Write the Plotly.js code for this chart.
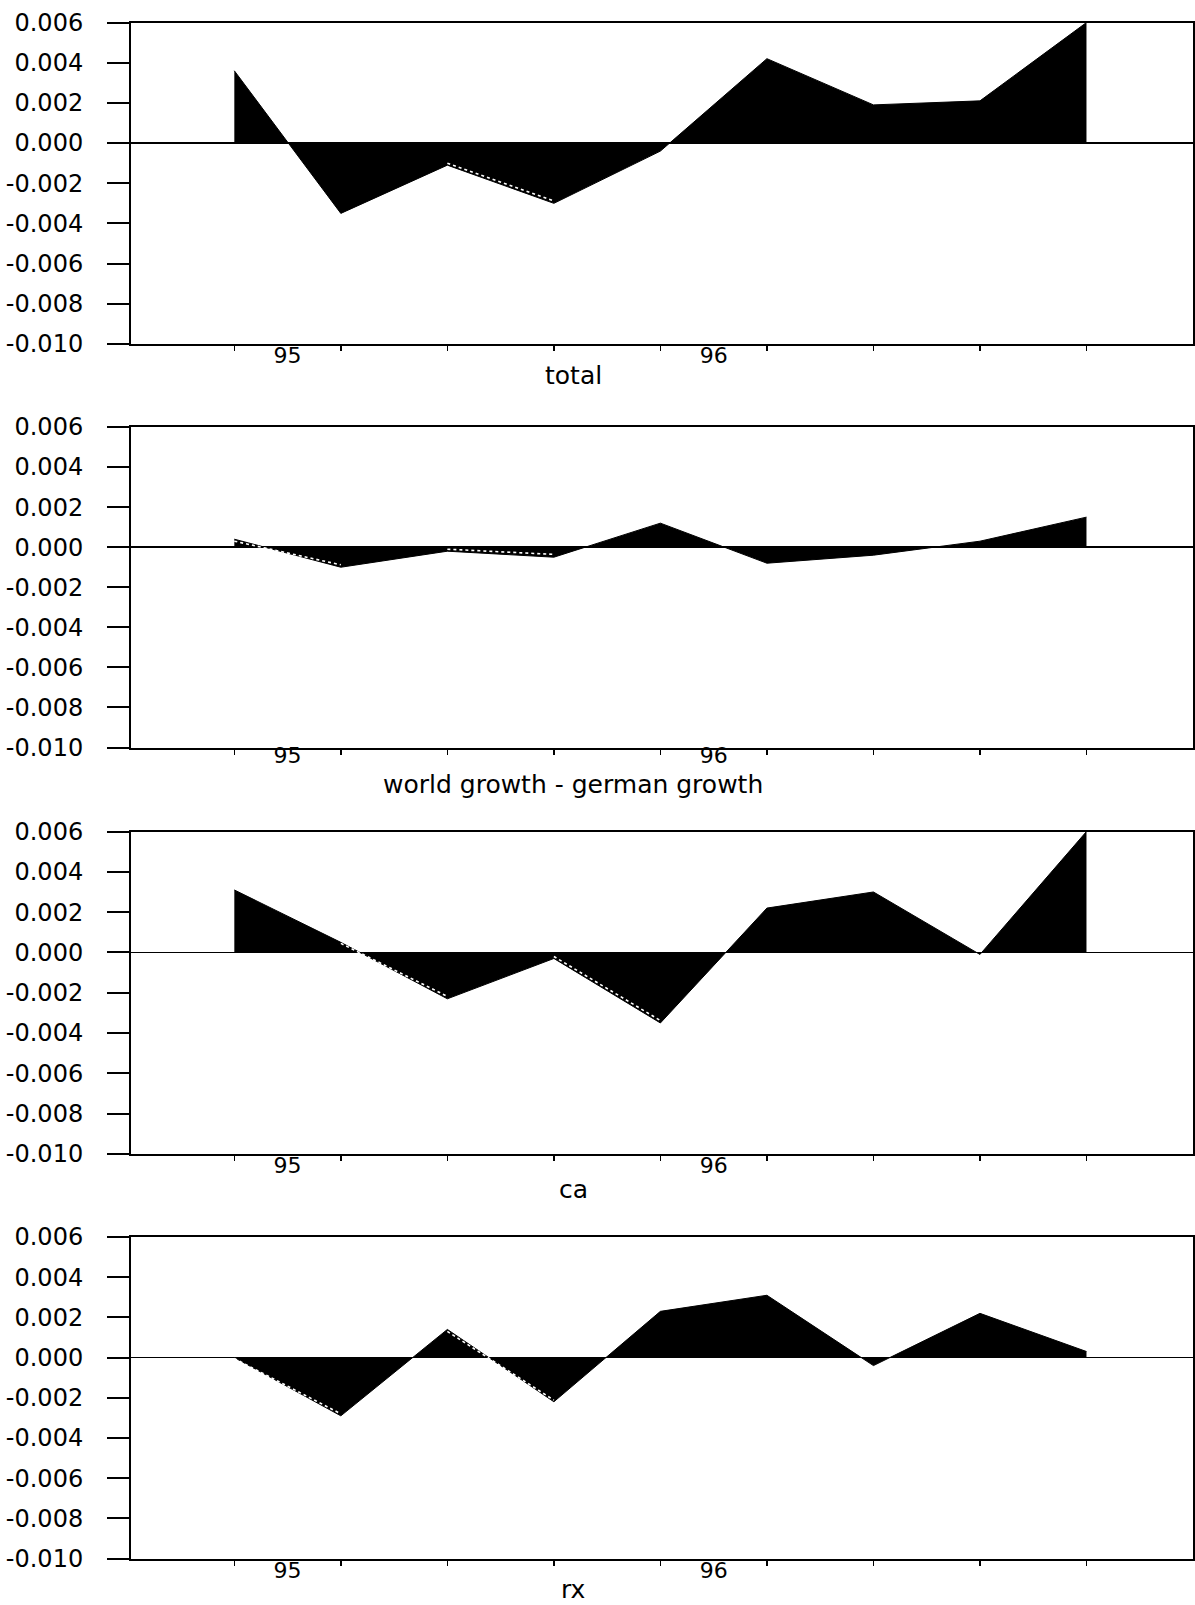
<!DOCTYPE html>
<html><head><meta charset="utf-8">
<script src="https://cdn.plot.ly/plotly-3.0.1.min.js"></script>
<style>html,body{margin:0;padding:0;background:#fff}</style>
</head><body><div id="chart" style="width:1195px;height:1605px"></div>
<script>
// quarterly observations (0 = first quarter shown)
const quarters = [0, 1, 2, 3, 4, 5, 6, 7, 8];

// filled series per panel
const total       = [0.0036, -0.0035, -0.0011, -0.0030, -0.0004, 0.0042, 0.0019, 0.0021, 0.0060];
const worldGerman = [0.0004, -0.0010, -0.0002, -0.0005, 0.0012, -0.0008, -0.0004, 0.0003, 0.0015];
const ca          = [0.0031, 0.0005, -0.0023, -0.0003, -0.0035, 0.0022, 0.0030, -0.0001, 0.0060];
const rx          = [0.0000, -0.0029, 0.0014, -0.0022, 0.0023, 0.0031, -0.0004, 0.0022, 0.0003];

// second (dotted white) series where it departs from the filled one
const totalDotX = [2, 3];
const totalDotY = [-0.00100, -0.00288];
const worldGermanDotX = [0, 1, null, 2, 3];
const worldGermanDotY = [0.00030, -0.00088, null, -0.00010, -0.00036];
const caDotX = [1, 2, null, 3, 4];
const caDotY = [0.00045, -0.00218, null, -0.00020, -0.00338];
const rxDotX = [0, 1, null, 2, 3];
const rxDotY = [-0.00005, -0.00280, null, 0.00130, -0.00212];

const titles = ['total', 'world growth - german growth', 'ca', 'rx'];

const yTickVals = [0.006, 0.004, 0.002, 0.000, -0.002, -0.004, -0.006, -0.008, -0.010];
const yTickText = ['0.006', '0.004', '0.002', '0.000', '-0.002', '-0.004', '-0.006', '-0.008', '-0.010'];
const yearTickVals = [0.5, 4.5];
const yearTickText = ['95', '96'];

const series = [total, worldGerman, ca, rx];
const dots = [[totalDotX, totalDotY], [worldGermanDotX, worldGermanDotY], [caDotX, caDotY], [rxDotX, rxDotY]];

const W = 1195, H = 1605;
const panelsPx = [[22.5, 344], [427, 747.5], [831.5, 1154], [1237, 1558.5]];
const titleYPx = [376, 784, 1189, 1589];
const labelStandoff = [-9, -13, -9, -9];
const xDomain = [131 / W, 1193 / W];

const font = {family: 'DejaVu Sans, sans-serif', color: '#000', size: 24};
const data = [];
const layout = {
  width: W, height: H,
  margin: {l: 0, r: 0, t: 0, b: 0},
  paper_bgcolor: '#fff', plot_bgcolor: '#fff',
  showlegend: false,
  font: font,
  annotations: []
};

series.forEach((vals, i) => {
  const n = i === 0 ? '' : String(i + 1);
  data.push({
    x: quarters, y: vals, xaxis: 'x' + n, yaxis: 'y' + n,
    type: 'scatter', mode: 'lines', fill: 'tozeroy',
    fillcolor: '#000', line: {color: '#000', width: 1}, hoverinfo: 'skip'
  });
  data.push({
    x: dots[i][0], y: dots[i][1], xaxis: 'x' + n, yaxis: 'y' + n,
    type: 'scatter', mode: 'lines', connectgaps: false,
    line: {color: '#fff', width: 1.6, dash: 'dot'}, hoverinfo: 'skip'
  });
  const [top, bot] = panelsPx[i];
  layout['xaxis' + n] = {
    domain: xDomain, anchor: 'y' + n, range: [-0.97, 9.0],
    showline: true, linewidth: 2, linecolor: '#000', mirror: true,
    showgrid: false, zeroline: false,
    tickmode: 'array', tickvals: yearTickVals, ticktext: yearTickText,
    ticks: '', ticklabelstandoff: labelStandoff[i],
    tickfont: {family: 'DejaVu Sans, sans-serif', size: 22, color: '#000'},
    minor: {tickmode: 'array', tickvals: quarters, ticks: 'outside', ticklen: 5, tickwidth: 1.5, tickcolor: '#000', showgrid: false},
    automargin: false, fixedrange: true
  };
  layout['yaxis' + n] = {
    domain: [1 - bot / H, 1 - top / H], anchor: 'x' + n, range: [-0.010, 0.006],
    showline: true, linewidth: 2, linecolor: '#000', mirror: true,
    showgrid: false, zeroline: true, zerolinecolor: '#000', zerolinewidth: 1.5,
    tickmode: 'array', tickvals: yTickVals, ticktext: yTickText,
    ticks: 'outside', ticklen: 22, tickwidth: 2, tickcolor: '#000',
    ticklabelstandoff: 19,
    tickfont: {family: 'DejaVu Sans, sans-serif', size: 24, color: '#000'},
    automargin: false, fixedrange: true
  };
  layout.annotations.push({
    text: titles[i], xref: 'paper', yref: 'paper',
    x: 573 / W, y: 1 - titleYPx[i] / H, xanchor: 'center', yanchor: 'middle',
    showarrow: false, font: {family: 'DejaVu Sans, sans-serif', size: 25, color: '#000'}
  });
});

Plotly.newPlot('chart', data, layout, {staticPlot: true, displayModeBar: false});
</script>
</body></html>
